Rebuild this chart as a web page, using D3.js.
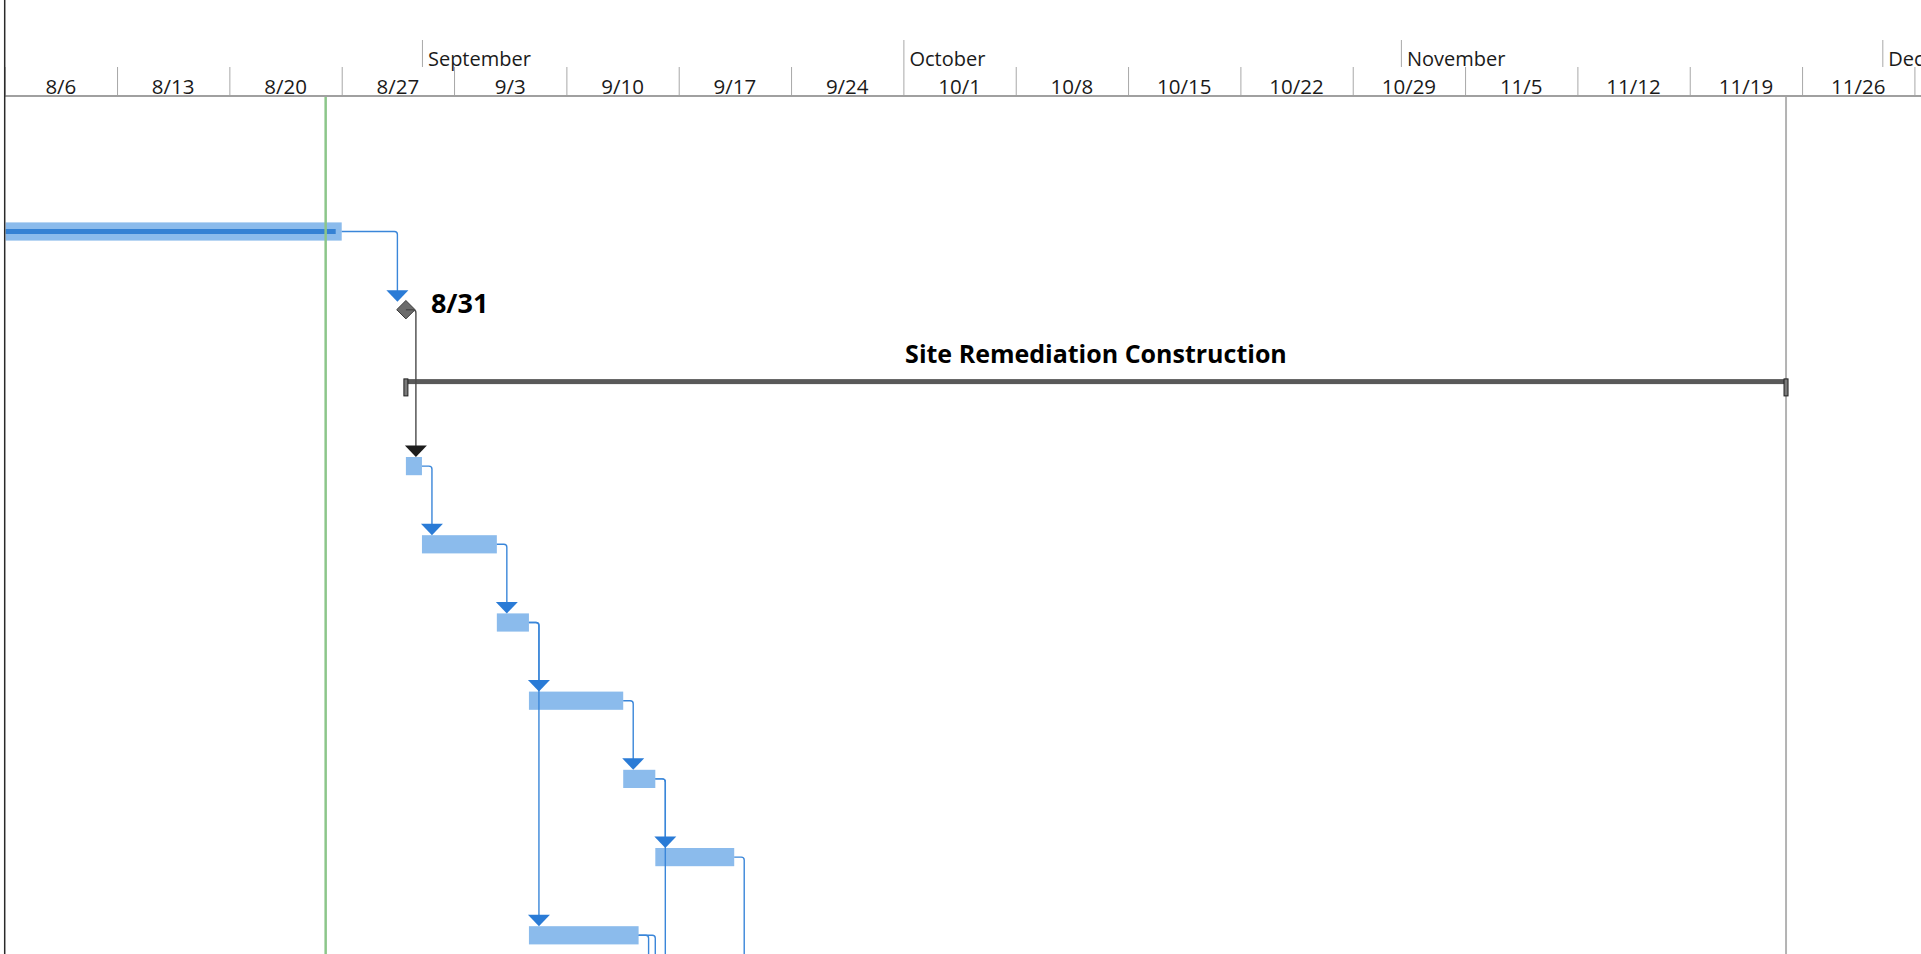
<!DOCTYPE html>
<html>
<head>
<meta charset="utf-8">
<script src="https://cdnjs.cloudflare.com/ajax/libs/d3/7.8.5/d3.min.js"></script>
<style>
  html, body { margin: 0; padding: 0; background: #fff; overflow: hidden; }
  svg { display: block; }
  text { font-family: "Open Sans", "Noto Sans", sans-serif; fill: #1a1a1a; }
</style>
</head>
<body>
<svg id="chart" width="1921" height="954"></svg>
<script>
// ---- Timescale window (weeks begin on Sunday) ----
const timescaleStart = "2017-08-06";
const timescaleEnd = "2017-12-03";
const statusDate = "2017-08-26";
const finishMarkerDate = "2017-11-25";

// ---- Tasks, one entry per Gantt row ----
const taskIds = [1, 2, 3, 4, 5, 6, 7, 8, 9, 10, 11, 12, 13, 14];
const taskKinds = ["task", "milestone", "summary", "task", "task", "task", "task",
                   "task", "task", "task", "task", "task", "task", "task"];
const taskNames = ["", "", "Site Remediation Construction", "", "", "", "",
                   "", "", "", "", "", "", ""];
const taskStarts = ["2017-07-17T00:00", "2017-08-31T00:00", "2017-08-31T00:00",
                    "2017-08-31T00:00", "2017-09-01T00:00", "2017-09-05T16:00",
                    "2017-09-07T16:00", "2017-09-13T13:00", "2017-09-15T13:00",
                    "2017-09-07T16:00", "2017-09-14T12:00", "2017-09-14T22:00",
                    "2017-09-15T13:00", "2017-09-20T11:00"];
const taskFinishes = ["2017-08-27T00:00", "2017-08-31T00:00", "2017-11-25T00:00",
                      "2017-09-01T00:00", "2017-09-05T16:00", "2017-09-07T16:00",
                      "2017-09-13T13:00", "2017-09-15T13:00", "2017-09-20T11:00",
                      "2017-09-14T12:00", "2017-09-19T12:00", "2017-09-20T22:00",
                      "2017-09-19T13:00", "2017-09-25T11:00"];
const taskCompleteThrough = ["2017-08-26T15:00", null, null, null, null, null, null,
                             null, null, null, null, null, null, null];

// ---- Finish-to-start dependencies ----
const linkPredecessors = [1, 2, 4, 5, 6, 7, 8, 6, 10, 10, 8, 9];
const linkSuccessors   = [2, 4, 5, 6, 7, 8, 9, 10, 11, 12, 13, 14];

// ---- Setup ----
const W = 1921, H = 954;
const parse = d3.utcParse("%Y-%m-%dT%H:%M");
const parseDay = d3.utcParse("%Y-%m-%d");
const fmtWeek = d3.utcFormat("%-m/%-d");
const fmtMonth = d3.utcFormat("%B");

const t0 = parseDay(timescaleStart);
const t1 = parseDay(timescaleEnd);
const leftEdge = 4.7;
const dayWidth = 16.048;
const x = d3.scaleUtc()
  .domain([t0, t1])
  .range([leftEdge, leftEdge + d3.utcDay.count(t0, t1) * dayWidth]);

const headerBottom = 96;
const rowHeight = 78.2;
const y = d3.scaleBand()
  .domain(taskIds)
  .range([192.4, 192.4 + taskIds.length * rowHeight])
  .paddingInner(0).paddingOuter(0);
const cy = id => y(id) + y.bandwidth() / 2;

const tasks = taskIds.map((id, i) => ({
  id,
  kind: taskKinds[i],
  name: taskNames[i],
  start: parse(taskStarts[i]),
  finish: parse(taskFinishes[i]),
  done: taskCompleteThrough[i] ? parse(taskCompleteThrough[i]) : null
}));
const byId = new Map(tasks.map(t => [t.id, t]));
const links = linkPredecessors.map((p, i) => ({ pred: byId.get(p), succ: byId.get(linkSuccessors[i]) }));

const svg = d3.select("#chart");

// ---- Timescale header ----
const header = svg.append("g");
const weekStarts = d3.utcSunday.range(t0, d3.utcDay.offset(t1, 1));
const monthStarts = d3.utcMonth.range(d3.utcMonth.ceil(t0), d3.utcDay.offset(t1, 1));

// month tier tick lines
header.append("g")
  .attr("transform", "translate(0,67)")
  .call(d3.axisTop(x).tickValues(monthStarts).tickSize(27).tickFormat(""))
  .call(g => g.select(".domain").remove())
  .selectAll("line").attr("stroke", "#a8a8a8");

header.selectAll("text.month")
  .data(monthStarts)
  .join("text")
  .attr("class", "month")
  .attr("x", d => x(d) + 6)
  .attr("y", 66)
  .attr("font-size", 20)
  .text(d => fmtMonth(d));

// week tier tick lines
header.append("g")
  .attr("transform", "translate(0,95)")
  .call(d3.axisTop(x).tickValues(weekStarts).tickSize(28).tickFormat(""))
  .call(g => g.select(".domain").remove())
  .selectAll("line").attr("stroke", "#a8a8a8");

header.selectAll("text.week")
  .data(weekStarts.filter(d => d < t1))
  .join("text")
  .attr("class", "week")
  .attr("x", d => (x(d) + x(d3.utcDay.offset(d, 7))) / 2)
  .attr("y", 93.5)
  .attr("text-anchor", "middle")
  .attr("font-size", 20.5)
  .text(d => fmtWeek(d));

header.append("line")
  .attr("x1", leftEdge).attr("x2", W)
  .attr("y1", headerBottom).attr("y2", headerBottom)
  .attr("stroke", "#a0a0a0").attr("stroke-width", 2);

// ---- Gantt body ----
svg.append("defs").append("clipPath").attr("id", "body-clip")
  .append("rect").attr("x", leftEdge + 1).attr("y", headerBottom + 1)
  .attr("width", W).attr("height", H);

const body = svg.append("g").attr("clip-path", "url(#body-clip)");

// finish marker (gray) line
body.append("line")
  .attr("x1", x(parseDay(finishMarkerDate))).attr("x2", x(parseDay(finishMarkerDate)))
  .attr("y1", headerBottom).attr("y2", H)
  .attr("stroke", "#b3b3b3").attr("stroke-width", 2);

// normal task bars
const barHalf = 9.1;
const normal = tasks.filter(t => t.kind === "task");
body.selectAll("rect.bar")
  .data(normal)
  .join("rect")
  .attr("class", "bar")
  .attr("x", d => x(d.start))
  .attr("y", d => cy(d.id) - barHalf)
  .attr("width", d => x(d.finish) - x(d.start))
  .attr("height", barHalf * 2)
  .attr("fill", "#8bbbec");

// progress bars
body.selectAll("rect.progress")
  .data(normal.filter(d => d.done))
  .join("rect")
  .attr("class", "progress")
  .attr("x", d => x(d.start))
  .attr("y", d => cy(d.id) - 2.5)
  .attr("width", d => x(d.done) - x(d.start))
  .attr("height", 5)
  .attr("fill", "#3481d4");

// summary bars
const summaries = tasks.filter(t => t.kind === "summary");
const sumG = body.selectAll("g.summary").data(summaries).join("g").attr("class", "summary");
sumG.append("rect")
  .attr("x", d => x(d.start))
  .attr("y", d => cy(d.id) - 8.8)
  .attr("width", d => x(d.finish) - x(d.start))
  .attr("height", 5)
  .attr("fill", "#595959");
sumG.selectAll("rect.cap")
  .data(d => [{ t: d.start, id: d.id }, { t: d.finish, id: d.id }])
  .join("rect")
  .attr("class", "cap")
  .attr("x", d => x(d.t) - 2)
  .attr("y", d => cy(d.id) - 9)
  .attr("width", 4)
  .attr("height", 17)
  .attr("fill", "#7a7a7a")
  .attr("stroke", "#1f1f1f")
  .attr("stroke-width", 1);
sumG.append("text")
  .attr("x", d => (x(d.start) + x(d.finish)) / 2)
  .attr("y", d => cy(d.id) - 25)
  .attr("text-anchor", "middle")
  .attr("font-size", 25)
  .attr("font-weight", 700)
  .style("fill", "#000")
  .text(d => d.name);

// status date line
body.append("line")
  .attr("x1", x(parseDay(statusDate))).attr("x2", x(parseDay(statusDate)))
  .attr("y1", headerBottom).attr("y2", H)
  .attr("stroke", "#8cc68a").attr("stroke-width", 2.5);

// milestones
const milestones = tasks.filter(t => t.kind === "milestone");
const msHalf = 9.2;
body.selectAll("path.milestone")
  .data(milestones)
  .join("path")
  .attr("class", "milestone")
  .attr("d", d => {
    const mx = x(d.start), my = cy(d.id);
    return `M${mx},${my - msHalf}L${mx + msHalf},${my}L${mx},${my + msHalf}L${mx - msHalf},${my}Z`;
  })
  .attr("fill", "#6c6c6c")
  .attr("stroke", "#3a3a3a")
  .attr("stroke-width", 1);
body.selectAll("text.milestone")
  .data(milestones)
  .join("text")
  .attr("class", "milestone")
  .attr("x", d => x(d.start) + 25)
  .attr("y", d => cy(d.id) + 3)
  .attr("font-size", 27)
  .attr("font-weight", 700)
  .style("fill", "#000")
  .text(d => fmtWeek(d.start));

// dependency connectors
const arrowHalf = 11, arrowH = 11.5, corner = 3;
function route(l) {
  const p = l.pred, s = l.succ;
  const py = cy(p.id);
  const px = p.kind === "milestone" ? x(p.start) : x(p.finish);
  const sx = x(s.start);
  let vx, tip;
  if (s.kind === "milestone") { vx = sx - 8.5; tip = cy(s.id) - 8; }
  else { vx = Math.max(px, sx) + 10; tip = cy(s.id) - barHalf; }
  return { px, py, vx, tip, dark: p.kind === "milestone" };
}
const routes = links.map(route);
body.selectAll("path.link")
  .data(routes)
  .join("path")
  .attr("class", "link")
  .attr("d", r => `M${r.px},${r.py}H${r.vx - corner}Q${r.vx},${r.py} ${r.vx},${r.py + corner}V${r.tip - arrowH + 1}`)
  .attr("fill", "none")
  .attr("stroke", r => r.dark ? "#4a4a4a" : "#3a86d9")
  .attr("stroke-width", 1.4);
body.selectAll("path.arrow")
  .data(routes)
  .join("path")
  .attr("class", "arrow")
  .attr("d", r => `M${r.vx - arrowHalf},${r.tip - arrowH}L${r.vx + arrowHalf},${r.tip - arrowH}L${r.vx},${r.tip}Z`)
  .attr("fill", r => r.dark ? "#1c1c1c" : "#2a7bd6");

// left border
svg.append("line")
  .attr("x1", leftEdge).attr("x2", leftEdge)
  .attr("y1", 0).attr("y2", H)
  .attr("stroke", "#2a2a2a").attr("stroke-width", 1.5);
</script>
</body>
</html>
